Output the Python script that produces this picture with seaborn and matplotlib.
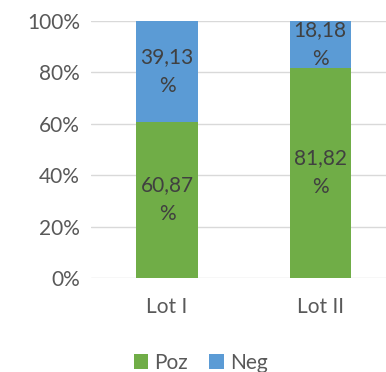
import matplotlib
matplotlib.use("Agg")
import matplotlib.pyplot as plt
import seaborn as sns
import pandas as pd
from matplotlib.patches import Patch

categories = ["Lot I", "Lot II"]
poz = [60.87, 81.82]
neg = [39.13, 18.18]
series_names = ["Poz", "Neg"]
colors = ["#70AD47", "#5B9BD5"]
yticks = [0, 20, 40, 60, 80, 100]
ytick_labels = ["0%", "20%", "40%", "60%", "80%", "100%"]

sns.set_theme(style="white")
plt.rcParams["font.family"] = ["Lato", "DejaVu Sans"]

df = pd.DataFrame({"cat": categories, "Poz": poz, "Neg": neg})
df["total"] = df["Poz"] + df["Neg"]

fig = plt.figure(figsize=(3.86, 3.72), dpi=100)
ax = fig.add_axes([91/386, 1 - 278/372, (386 - 91)/386, (278 - 21)/372])

sns.barplot(data=df, x="cat", y="total", color=colors[1], width=0.4, ax=ax,
            saturation=1, edgecolor="none")
sns.barplot(data=df, x="cat", y="Poz", color=colors[0], width=0.4, ax=ax,
            saturation=1, edgecolor="none")

for i in range(len(categories)):
    ax.text(i, poz[i] / 2, f"{poz[i]:.2f}".replace(".", ",") + "\n%",
            ha="center", va="center", fontsize=15, color="#404040", linespacing=1.55)
    ax.text(i, poz[i] + neg[i] / 2, f"{neg[i]:.2f}".replace(".", ",") + "\n%",
            ha="center", va="center", fontsize=15, color="#404040", linespacing=1.55)

ax.set_xlim(-0.497, 1.43)
ax.set_ylim(0, 100)
ax.set_yticks(yticks)
ax.set_yticklabels(ytick_labels)
ax.yaxis.grid(True, color="#D9D9D9", linewidth=1)
ax.set_axisbelow(True)
for s in ax.spines.values():
    s.set_visible(False)
ax.set_xlabel("")
ax.set_ylabel("")
ax.tick_params(axis="y", labelsize=15, labelcolor="#595959", length=0, pad=8)
ax.tick_params(axis="x", labelsize=15, labelcolor="#595959", length=0, pad=14)

handles = [Patch(facecolor=c, edgecolor="none") for c in colors]
fig.legend(handles, series_names, loc="center", bbox_to_anchor=(0.52, 1 - 363/372),
           ncol=2, frameon=False, fontsize=15, labelcolor="#595959",
           handlelength=0.7, handleheight=0.7, handletextpad=0.3, columnspacing=1.0)

fig.savefig("out.png", dpi=100)
